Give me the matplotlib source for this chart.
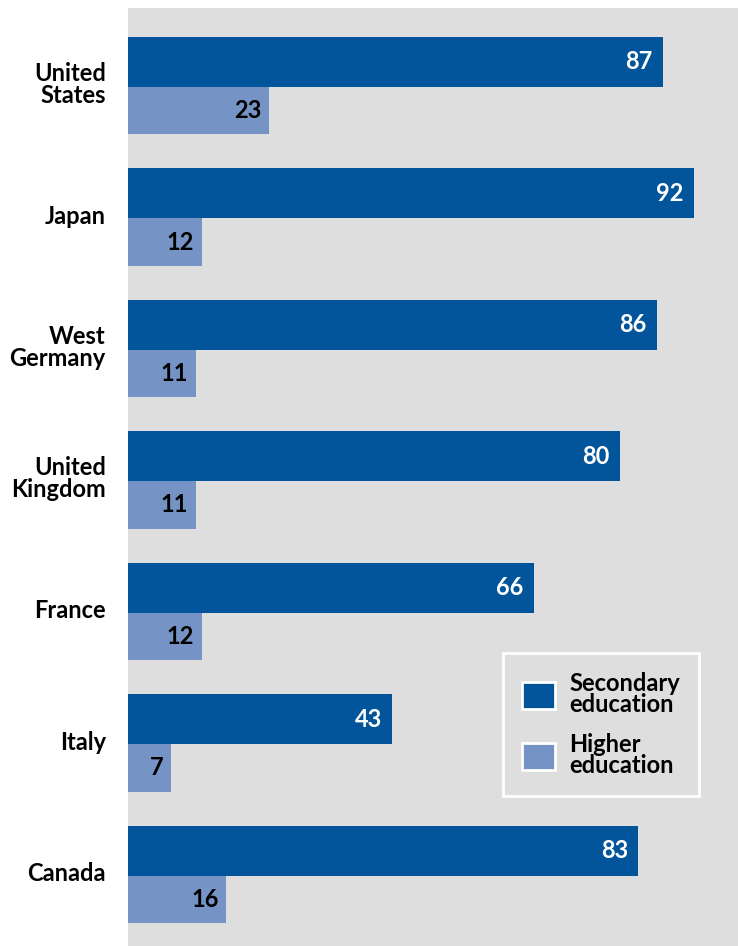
import numpy as np
import matplotlib
from matplotlib import pyplot as plt
from matplotlib.patches import Patch

matplotlib.rcParams.update({
    'font.family': ['Lato', 'DejaVu Sans'],
    'font.weight': 'bold',
    'font.size': 17,
})

countries = ['United\nStates', 'Japan', 'West\nGermany', 'United\nKingdom', 'France', 'Italy', 'Canada']
secondary = [87, 92, 86, 80, 66, 43, 83]
higher = [23, 12, 11, 11, 12, 7, 16]

dark_blue = '#02559a'
light_blue = '#7594c5'
bg_gray = '#dedede'

fig = plt.figure(figsize=(7.38, 9.46), dpi=100)
ax = fig.add_axes([128 / 738, 0, 610 / 738, 938 / 946])
ax.set_facecolor(bg_gray)

pos = np.arange(len(countries))
h1, h2 = 0.38, 0.36
ax.barh(pos, secondary, height=h1, align='edge', color=dark_blue)
ax.barh(pos + h1, higher, height=h2, align='edge', color=light_blue)

# value labels inside the bar ends
for i in range(len(countries)):
    ax.text(secondary[i] - 1.7, pos[i] + h1 / 2, str(secondary[i]), color='white',
            ha='right', va='center', fontsize=17, fontweight='bold')
    ax.text(higher[i] - 1.3, pos[i] + h1 + h2 / 2, str(higher[i]), color='black',
            ha='right', va='center', fontsize=17, fontweight='bold')

ax.set_xlim(0, 99.2)
ax.set_ylim(6.915, -0.22)
ax.set_xticks([])
ax.set_yticks(pos + h1 - 0.03)
ax.set_yticklabels(countries, fontsize=17, fontweight='bold', linespacing=0.95)
ax.tick_params(axis='y', length=0, pad=16)
for s in ax.spines.values():
    s.set_visible(False)

handles = [Patch(facecolor=dark_blue, edgecolor='white', linewidth=2),
           Patch(facecolor=light_blue, edgecolor='white', linewidth=2)]
leg = ax.legend(handles, ['Secondary\neducation', 'Higher\neducation'],
                loc='upper left', bbox_to_anchor=((503 - 128) / 610, 1 - (653 - 8) / 938),
                borderaxespad=0,
                facecolor=bg_gray, edgecolor='white', framealpha=1, fancybox=False,
                handlelength=1.4, handleheight=1.4, handletextpad=0.6,
                labelspacing=0.7, borderpad=0.8,
                prop={'size': 17, 'weight': 'bold'})
leg.get_frame().set_linewidth(2)
for t in leg.get_texts():
    t.set_linespacing(0.9)

fig.savefig('out.png', dpi=100)
